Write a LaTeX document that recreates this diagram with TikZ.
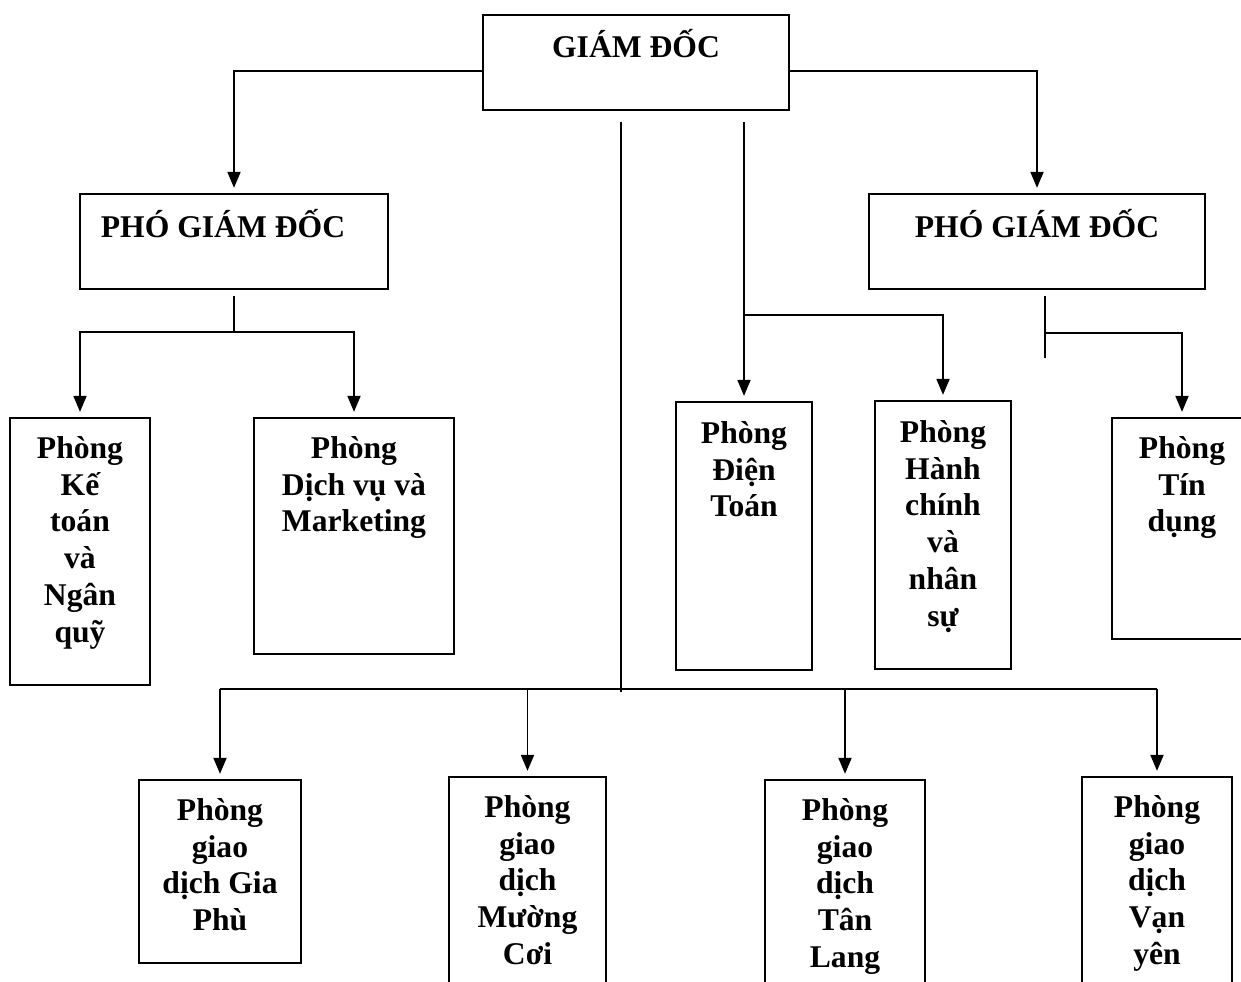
\documentclass[tikz,border=0pt]{standalone}
\usepackage{fontspec}
\setmainfont{Liberation Serif}
\usetikzlibrary{arrows.meta,fit,calc}

\begin{document}
\begin{tikzpicture}[x=0.02cm, y=-0.02cm,
        box/.style={draw, line width=1.3pt, inner sep=0pt},
        head/.style={font=\bfseries\fontsize{18}{21}\selectfont, anchor=base, inner sep=0pt},
        txt/.style={font=\bfseries\fontsize{18}{21}\selectfont, align=center, anchor=north, inner sep=0pt, execute at begin node=\strut},
        link/.style={line width=1.1pt},
        arr/.style={line width=1.1pt, -{Triangle[length=0.32cm,width=0.26cm]}, shorten >=0.1cm}]
        \clip (0,0) rectangle (1241,982);

        \node [box, fit={(483,15) (789,110)}] (gd) {};
        \node [box, fit={(80,194) (388,289)}] (pgd1) {};
        \node [box, fit={(869,194) (1205,289)}] (pgd2) {};

        \node [box, fit={(10,418) (150,685)}] (kt) {};
        \node [box, fit={(254,418) (454,654)}] (dv) {};
        \node [box, fit={(676,402) (812,670)}] (dt) {};
        \node [box, fit={(875,401) (1011,669)}] (hc) {};
        \node [box, fit={(1112,418) (1252,639)}] (td) {};

        \node [box, fit={(139,780) (301,963)}] (gp) {};
        \node [box, fit={(449,777) (606,1000)}] (mc) {};
        \node [box, fit={(765,780) (925,1000)}] (tl) {};
        \node [box, fit={(1082,777) (1232,1000)}] (vy) {};

        \node [head] (gdt) at ($(gd.north)+(0,44)$) {GIÁM ĐỐC};
        \node [head] (pgd1t) at ($(pgd1.north)+(-11,45)$) {PHÓ GIÁM ĐỐC};
        \node [head] (pgd2t) at ($(pgd2.north)+(0,45)$) {PHÓ GIÁM ĐỐC};
        \node [txt] (ktt) at ($(kt.north)+(0,19)$) {Phòng\\Kế\\toán\\và\\Ngân\\quỹ};
        \node [txt] (dvt) at ($(dv.north)+(0,19)$) {Phòng\\Dịch vụ và\\Marketing};
        \node [txt] (dtt) at ($(dt.north)+(0,20)$) {Phòng\\Điện\\Toán};
        \node [txt] (hct) at ($(hc.north)+(0,20)$) {Phòng\\Hành\\chính\\và\\nhân\\sự};
        \node [txt] (tdt) at ($(td.north)+(0,19)$) {Phòng\\Tín\\dụng};
        \node [txt] (gpt) at ($(gp.north)+(0,19)$) {Phòng\\giao\\dịch Gia\\Phù};
        \node [txt] (mct) at ($(mc.north)+(0,19)$) {Phòng\\giao\\dịch\\Mường\\Cơi};
        \node [txt] (tlt) at ($(tl.north)+(0,19)$) {Phòng\\giao\\dịch\\Tân\\Lang};
        \node [txt] (vyt) at ($(vy.north)+(0,19)$) {Phòng\\giao\\dịch\\Vạn\\yên};

        \coordinate (t1) at (621,122);
        \coordinate (t2) at (744,122);
        \coordinate (br) at (744,315);
        \coordinate (j1) at (234,332);
        \coordinate (j2) at (1045,333);
        \coordinate (bus) at (621,689);

        \draw [arr] ([yshift=-0.17cm]gd.west) -| (pgd1.north);
        \draw [arr] ([yshift=-0.17cm]gd.east) -| (pgd2.north);

        \draw [link] ([yshift=-0.12cm]pgd1.south) -- (j1);
        \draw [arr] (j1) -| (kt.north);
        \draw [arr] (j1) -| (dv.north);

        \draw [arr] (t2) -- (dt.north);
        \draw [arr] (br) -| (hc.north);

        \draw [link] ([shift={(0.16cm,-0.12cm)}]pgd2.south) -- ++(0,62);
        \draw [arr] (j2) -| (td.north);

        \draw [link] (t1) -- ($(bus)+(0,3)$);
        \draw [link] (gp.north |- bus) -- (vy.north |- bus);
        \foreach \n in {gp,mc,tl,vy}
            \draw [arr] (\n.north |- bus) -- (\n.north);
\end{tikzpicture}
\end{document}
